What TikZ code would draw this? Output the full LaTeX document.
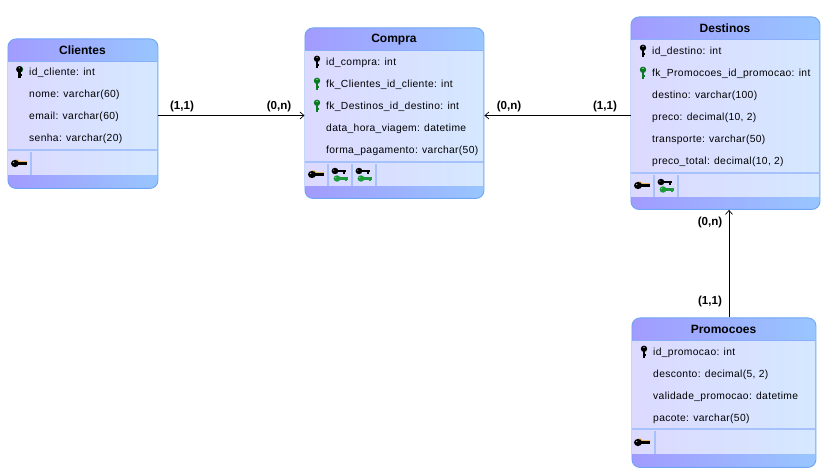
\documentclass[tikz,border=0pt]{standalone}
\usepackage{fontspec}
\setmainfont{Liberation Sans}
\newfontfamily\attrfont[LetterSpace=3.4]{Liberation Sans}
\usetikzlibrary{arrows.meta}
\definecolor{hdL}{HTML}{A29BFF}
\definecolor{hdR}{HTML}{98C6FF}
\definecolor{bdL}{HTML}{DCD9FF}
\definecolor{bdR}{HTML}{D5E8FF}
\definecolor{edgeC}{HTML}{6EA6F4}
\definecolor{sepC}{HTML}{8AAEF8}
\definecolor{fkgreen}{HTML}{1E9A3A}
\definecolor{pkgreen}{HTML}{0B7A22}
\definecolor{pkorange}{HTML}{F5A623}
\tikzset{
  x=1pt,y=-1pt,
  tablebox/.style={draw=edgeC,line width=0.9pt,rounded corners=8pt,left color=hdL,right color=hdR,inner sep=0pt,anchor=north west},
  bodybox/.style={left color=bdL,right color=bdR,draw=none},
  title/.style={font=\fontsize{12}{14}\selectfont\bfseries,text=black},
  attr/.style={font=\attrfont\fontsize{10.3}{12}\selectfont,anchor=west,inner sep=0pt,text=black},
  card/.style={font=\fontsize{11.6}{13}\selectfont\bfseries,inner sep=0pt},
  link/.style={draw=black,line width=0.8pt},
  arrowed/.style={link,-{Straight Barb[length=4pt,width=7pt,line width=0.7pt]}},
}
\newcommand{\tbl}[8]{%
  \node[tablebox,minimum width=#4pt-#2pt,minimum height=#5pt-#3pt] (#1) at (#2,#3) {};
  \fill[bodybox] (#2+0.5,#3+23) rectangle (#4-0.5,#7);
  \draw[sepC,line width=1pt] (#2+0.5,#3+23) -- (#4-0.5,#3+23);
  \fill[sepC!75] (#2+0.5,#7-1.5) rectangle (#4-0.5,#7+1);
  \fill[bodybox] (#2+0.5,#7+1) rectangle (#4-0.5,#8);
  \node[title] (#1-title) at ({(#2+#4)/2},#3+12) {#6};
}
\newcommand{\cellsep}[3]{\fill[sepC!75] (#1-1,#2) rectangle (#1+1,#3);}
% vertical key
\newcommand{\vkey}[3]{%
  \begin{scope}[shift={(#1,#2)}]
    \fill[#3] (0,-3.2) ellipse[x radius=3.2,y radius=3.2];
    \fill[#3] (-1.4,-2) rectangle (1.4,6);
    \fill[#3] (1,2) rectangle (2.4,3.6);
    \fill[white!70!#3] (0,-4.6) circle[radius=0.8];
  \end{scope}}
% small horizontal key, centred
\newcommand{\hkey}[3]{%
  \begin{scope}[shift={(#1,#2)}]
    \fill[#3] (-4,0) ellipse[x radius=3.4,y radius=3.2];
    \fill[#3] (-2,-1.4) rectangle (7,1.4);
    \fill[#3] (3.6,1) rectangle (5.6,3);
    \fill[white!70!#3] (-5.2,-0.8) circle[radius=0.6];
  \end{scope}}
% primary key glyph, centred
\newcommand{\pkhkey}[2]{%
  \begin{scope}[shift={(#1,#2)}]
    \fill[pkorange] (-4,-3.9) -- (-1,-3.9) -- (0,-2) -- (8,-2) -- (8,-0.8) -- (-4,-0.8) -- cycle;
    \fill[black] (-4,0) ellipse[x radius=4,y radius=3.6];
    \fill[black] (-2,-1) rectangle (8,1.4);
    \fill[white!70!black] (-5.4,-1) circle[radius=0.7];
  \end{scope}}
\begin{document}
\begin{tikzpicture}
\useasboundingbox (0,0) rectangle (823,470);
\fill[white] (0,0) rectangle (823,470);
% Clientes
\tbl{clientes}{7.5}{38.5}{157.5}{188}{Clientes}{151}{175}
\vkey{20}{72.5}{pkgreen}\vkey{19.3}{72.5}{black}
\node[attr] (c1) at (29,73) {id\_cliente: int};
\node[attr] (c2) at (29,95) {nome: varchar(60)};
\node[attr] (c3) at (29,117) {email: varchar(60)};
\node[attr] (c4) at (29,139) {senha: varchar(20)};
\cellsep{31}{152}{175}
\pkhkey{19}{163.5}
% Compra
\tbl{compra}{304.5}{27.5}{483.5}{198}{Compra}{163}{186}
\vkey{317}{62}{black}
\vkey{317}{84}{pkgreen}
\vkey{317}{106}{pkgreen}
\node[attr] (m1) at (326,62.5) {id\_compra: int};
\node[attr] (m2) at (326,84.5) {fk\_Clientes\_id\_cliente: int};
\node[attr] (m3) at (326,106.5) {fk\_Destinos\_id\_destino: int};
\node[attr] (m4) at (326,128.5) {data\_hora\_viagem: datetime};
\node[attr] (m5) at (326,150.5) {forma\_pagamento: varchar(50)};
\cellsep{328}{164}{186}\cellsep{352}{164}{186}\cellsep{376}{164}{186}
\pkhkey{316}{174.5}
\hkey{339}{171}{black}\hkey{341}{178.5}{fkgreen}
\hkey{363}{171}{black}\hkey{365}{178.5}{fkgreen}
% Destinos
\tbl{destinos}{630.5}{16.5}{819.5}{209}{Destinos}{174}{197}
\vkey{643}{51}{black}
\vkey{643}{73}{pkgreen}
\node[attr] (d1) at (652,51.5) {id\_destino: int};
\node[attr] (d2) at (652,73.5) {fk\_Promocoes\_id\_promocao: int};
\node[attr] (d3) at (652,95.5) {destino: varchar(100)};
\node[attr] (d4) at (652,117.5) {preco: decimal(10, 2)};
\node[attr] (d5) at (652,139.5) {transporte: varchar(50)};
\node[attr] (d6) at (652,161.5) {preco\_total: decimal(10, 2)};
\cellsep{654}{175}{197}\cellsep{678}{175}{197}
\pkhkey{642}{185.5}
\hkey{665}{182}{black}\hkey{667}{189.5}{fkgreen}
% Promocoes
\tbl{promocoes}{631.5}{317.5}{815.5}{467}{Promocoes}{430}{454}
\vkey{644}{352}{black}
\node[attr] (p1) at (653,353) {id\_promocao: int};
\node[attr] (p2) at (653,375) {desconto: decimal(5, 2)};
\node[attr] (p3) at (653,397) {validade\_promocao: datetime};
\node[attr] (p4) at (653,419) {pacote: varchar(50)};
\cellsep{655}{431}{454}
\pkhkey{642}{442.5}
% connectors
\coordinate (h) at (400,115.5);
\coordinate (v) at (729,260);
\draw[arrowed] (clientes.east |- h) -- (compra.west |- h);
\draw[arrowed] (destinos.west |- h) -- (compra.east |- h);
\draw[arrowed] (promocoes.north -| v) -- (destinos.south -| v);
% cardinalities
\node[card] (l1) at (182,106.5) {(1,1)};
\node[card] (l2) at (279,106.5) {(0,n)};
\node[card] (l3) at (509,106.5) {(0,n)};
\node[card] (l4) at (605,106.5) {(1,1)};
\node[card] (l5) at (710,222.5) {(0,n)};
\node[card] (l6) at (710,301.5) {(1,1)};
\end{tikzpicture}
\end{document}
